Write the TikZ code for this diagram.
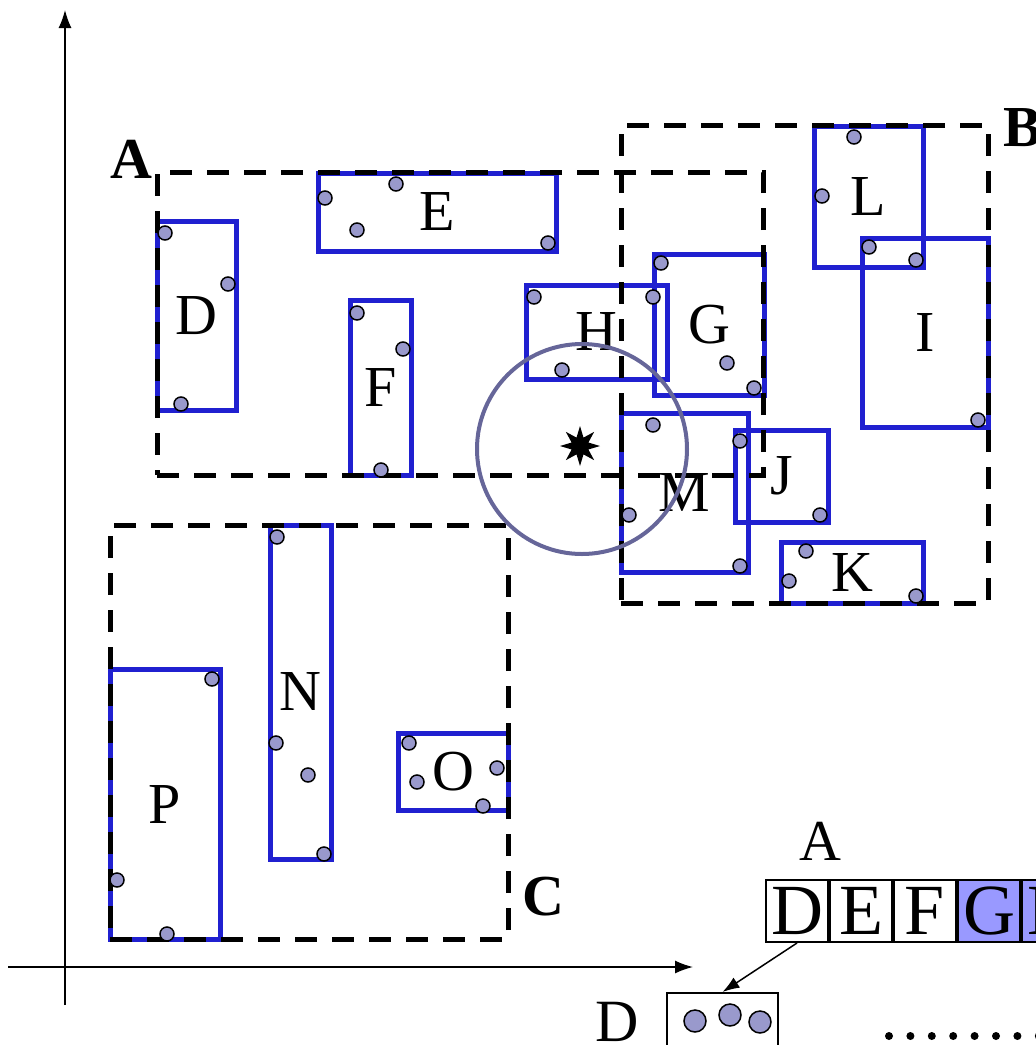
\documentclass[tikz,border=0pt]{standalone}
\usepackage{fontspec}
\setmainfont{Liberation Serif}
\usetikzlibrary{arrows.meta,positioning,shapes.geometric}
\definecolor{mbrblue}{HTML}{2020D0}
\definecolor{ptfill}{HTML}{9999CC}
\definecolor{rangecol}{HTML}{666699}
\definecolor{cellfill}{HTML}{9999FF}
\tikzset{
  mbr/.style={draw=mbrblue,line width=5pt,inner sep=0pt,font=\fontsize{58}{58}\selectfont},
  region/.style={draw=black,line width=5pt,dash pattern=on 22pt off 15pt,inner sep=0pt},
  regionlbl/.style={inner sep=0pt,font=\fontsize{58}{58}\selectfont\bfseries},
  pt/.style={circle,draw=black,line width=1.5pt,fill=ptfill,inner sep=0pt,minimum size=14pt},
  cell/.style={draw=black,line width=2pt,minimum width=62pt,minimum height=62pt,inner sep=0pt,
    font=\fontsize{72}{72}\selectfont},
  axis/.style={line width=1.5pt,-{Latex[length=18pt,width=13pt]}},
}

\begin{document}
\begin{tikzpicture}[x=1pt,y=-1pt]
\useasboundingbox (0,0) rectangle (1036,1045);
% axes:
\coordinate (ybot) at (65,1005);
\coordinate (ytop) at (65,10);
\coordinate (xleft) at (8,967);
\coordinate (xright) at (693,967);
\draw[axis] (ybot) -- (ytop);
\draw[axis] (xleft) -- (xright);
% leaf rectangles:
\node[mbr,minimum width=79pt,minimum height=189pt] (D) at (196.5,315.5) {D};
\node[mbr,minimum width=238pt,minimum height=78pt] (E) at (437,212) {E};
\node[mbr,minimum width=61pt,minimum height=175pt] (F) at (380.5,387.5) {F};
\node[mbr,minimum width=141pt,minimum height=94pt] (H) at (596.5,332) {H};
\node[mbr,minimum width=110pt,minimum height=141pt] (G) at (709,324.5) {G};
\node[mbr,minimum width=109pt,minimum height=141pt] (L) at (868.5,196.5) {L};
\node[mbr,minimum width=126pt,minimum height=189pt] (I) at (925,332.5) {I};
\node[mbr,minimum width=127pt,minimum height=159pt] (M) at (684.5,492.5) {M};
\node[mbr,minimum width=93pt,minimum height=92pt] (J) at (781.5,476) {J};
\node[mbr,minimum width=142pt,minimum height=61pt] (K) at (852,572.5) {K};
\node[mbr,minimum width=61pt,minimum height=334pt] (N) at (300.5,692) {N};
\node[mbr,minimum width=110pt,minimum height=77pt] (O) at (453,771.5) {O};
\node[mbr,minimum width=110pt,minimum height=270pt] (P) at (165,804) {P};
% upper level rectangles:
\node[region,minimum width=606pt,minimum height=303pt] (A) at (460,323.5) {};
\node[region,minimum width=367pt,minimum height=478pt] (B) at (804.5,364) {};
\node[region,minimum width=398pt,minimum height=414pt] (C) at (309,732) {};
\node[regionlbl] (labA) at (131,159) {A};
\node[regionlbl] (labB) at (1023,128) {B};
\node[regionlbl] (labC) at (543,897) {C};
% range query:
\node[circle,draw=rangecol,line width=4pt,minimum size=210pt,inner sep=0pt] (range) at (582,449) {};
% data points:
\foreach \x/\y [count=\i] in {165/233,228/284,181/404,325/198,396/184,357/230,548/243,
  357/313,403/349,381/470,534/297,653/297,562/370,661/263,727/363,754/388,
  854/137,822/196,869/247,916/260,978/420,653/425,629/515,740/566,740/441,820/515,
  806/551,789/581,916/596,277/537,276/743,308/775,324/854,409/743,417/782,497/768,
  483/806,212/679,117/880,167/934}
  \node[pt] (p\i) at (\x,\y) {};
\node[star,star points=8,star point ratio=2.2,fill=black,inner sep=0pt,minimum size=40pt] (q) at (580,446) {};
% node of A and leaf D:
\node[inner sep=0pt,font=\fontsize{58}{58}\selectfont] (nodeA) at (820,841) {A};
\node[cell] (rowD) at (797,911) {D};
\node[cell,right=0pt of rowD] (rowE) {E};
\node[cell,right=0pt of rowE] (rowF) {F};
\node[cell,fill=cellfill,right=0pt of rowF] (rowG) {G};
\node[cell,fill=cellfill,right=0pt of rowG] (rowH) {H};
\node[draw=black,line width=2pt,minimum width=111pt,minimum height=62pt,inner sep=0pt] (leafD) at (722.5,1024) {};
\node[inner sep=0pt,font=\fontsize{60}{60}\selectfont] (labD) at (617,1022) {D};
\node[pt,minimum size=22pt] (d1) at (695,1021) {};
\node[pt,minimum size=22pt] (d2) at (730,1015) {};
\node[pt,minimum size=22pt] (d3) at (760,1022) {};
\draw[line width=1.5pt,-{Latex[length=17pt,width=12pt]}] (rowD.south) -- (leafD.north);
\foreach \i in {0,...,7}
  \fill (889+21.4*\i,1036) circle (4);
\end{tikzpicture}
\end{document}
